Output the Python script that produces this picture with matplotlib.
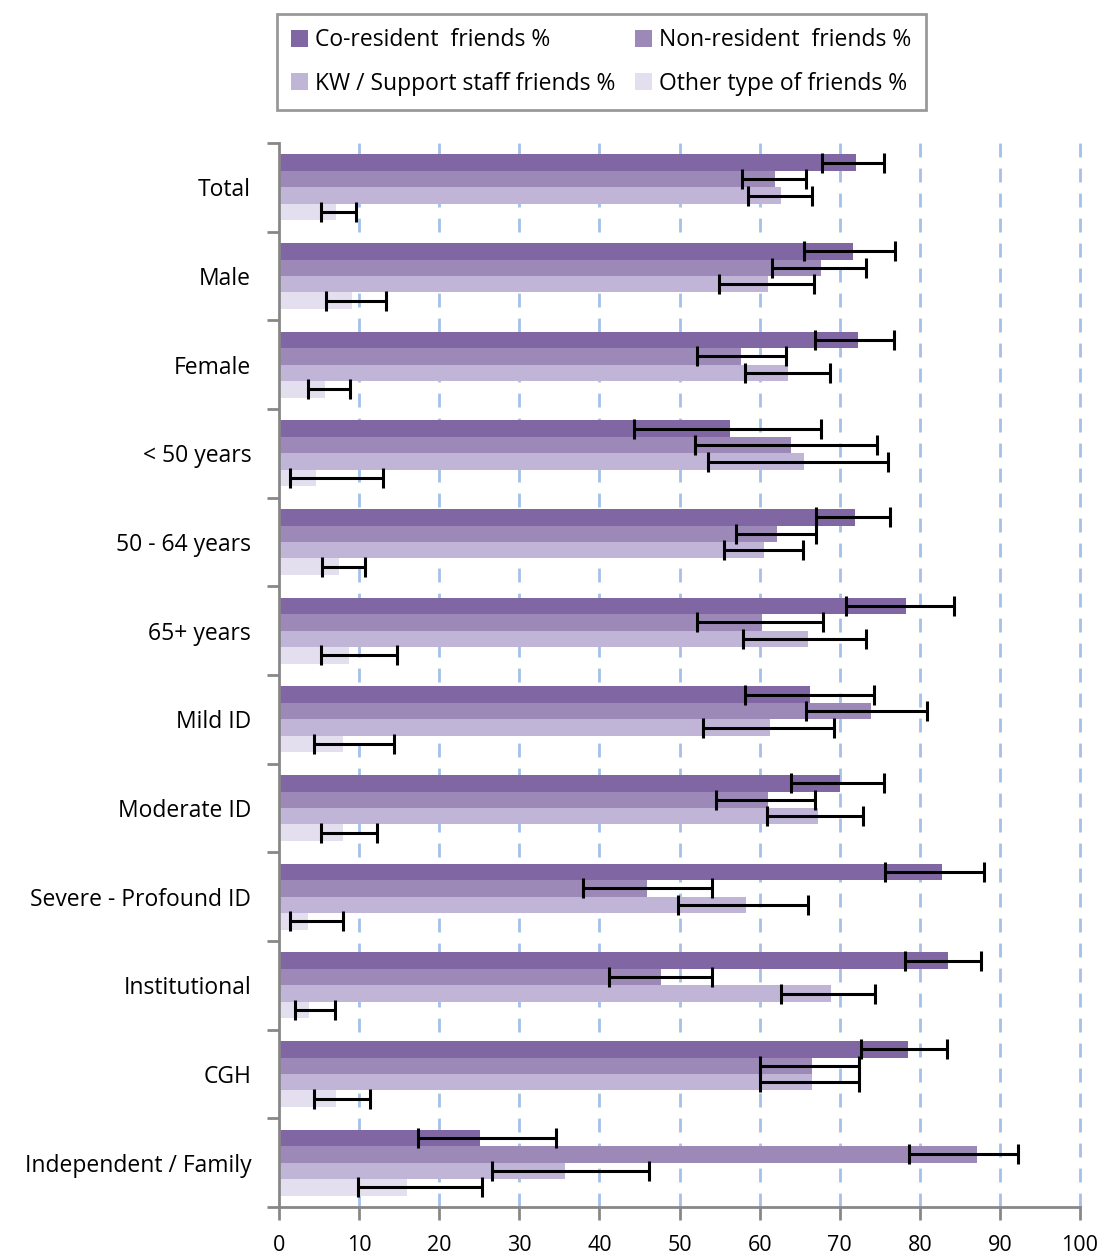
import matplotlib
matplotlib.use("Agg")
import matplotlib.pyplot as plt
from matplotlib.patches import Patch
import numpy as np

plt.rcParams['font.family'] = ['Open Sans', 'DejaVu Sans']

categories = ["Total", "Male", "Female", "< 50 years", "50 - 64 years", "65+ years",
              "Mild ID", "Moderate ID", "Severe - Profound ID", "Institutional",
              "CGH", "Independent / Family"]

series_names = ["Co-resident  friends %", "Non-resident  friends %",
                "KW / Support staff friends %", "Other type of friends %"]

co_res = [72.0, 71.6, 72.3, 56.3, 71.9, 78.3, 66.3, 70.0, 82.8, 83.5, 78.5, 25.1]
co_res_lo = [67.8, 65.5, 66.9, 44.3, 67.1, 70.8, 58.2, 63.9, 75.7, 78.1, 72.7, 17.3]
co_res_hi = [75.5, 76.9, 76.8, 67.7, 76.3, 84.3, 74.3, 75.5, 88.0, 87.7, 83.4, 34.6]

non_res = [61.9, 67.7, 57.7, 63.9, 62.2, 60.3, 73.9, 61.0, 46.0, 47.7, 66.5, 87.2]
non_res_lo = [57.8, 61.5, 52.2, 51.9, 57.1, 52.2, 65.8, 54.6, 37.9, 41.2, 60.1, 78.7]
non_res_hi = [65.8, 73.3, 63.3, 74.7, 67.0, 67.9, 80.9, 66.9, 54.1, 54.1, 72.4, 92.3]

kw = [62.7, 61.0, 63.5, 65.6, 60.6, 66.0, 61.3, 67.3, 58.3, 68.9, 66.5, 35.7]
kw_lo = [58.6, 54.9, 58.2, 53.5, 55.5, 57.9, 52.9, 60.9, 49.8, 62.7, 60.1, 26.6]
kw_hi = [66.5, 66.8, 68.8, 76.0, 65.4, 73.3, 69.3, 72.9, 66.0, 74.4, 72.4, 46.2]

other = [7.1, 9.1, 5.7, 4.6, 7.5, 8.7, 8.0, 8.0, 3.6, 3.8, 7.1, 16.0]
other_lo = [5.2, 5.9, 3.6, 1.4, 5.4, 5.2, 4.4, 5.2, 1.4, 2.0, 4.4, 9.9]
other_hi = [9.6, 13.4, 8.9, 13.0, 10.7, 14.7, 14.4, 12.2, 8.0, 7.0, 11.3, 25.3]

x_ticks = [0, 10, 20, 30, 40, 50, 60, 70, 80, 90, 100]

colors = ["#8067A3", "#9C89B8", "#C1B5D7", "#E3DFEE"]

W, H = 1102, 1255
fig = plt.figure(figsize=(W / 100, H / 100), dpi=100)
ax = fig.add_axes([279 / W, 1 - 1207 / H, (1080 - 279) / W, (1207 - 143) / H])

ypos = np.arange(len(categories))
h = 0.186
series = [(co_res, co_res_lo, co_res_hi), (non_res, non_res_lo, non_res_hi),
          (kw, kw_lo, kw_hi), (other, other_lo, other_hi)]

for gx in x_ticks[1:]:
    ax.axvline(gx, color="#A3C1E9", lw=2, ls=(0, (5, 4)), zorder=0.5, clip_on=False)

for k, (vals, lo, hi) in enumerate(series):
    yk = ypos + (k - 1.5) * h
    vals = np.array(vals); lo = np.array(lo); hi = np.array(hi)
    ax.barh(yk, vals, height=h, color=colors[k], zorder=2, label=series_names[k])
    ax.errorbar((lo + hi) / 2, yk, xerr=(hi - lo) / 2, fmt='none', ecolor='black',
                elinewidth=2.2, capsize=7, capthick=2.2, zorder=3)

ax.set_xlim(0, 100)
ax.set_ylim(len(categories) - 0.5, -0.5)
ax.set_xticks(x_ticks)
ax.set_xticklabels([str(v) for v in x_ticks], fontsize=15.5)
ax.set_yticks(ypos)
ax.set_yticklabels(categories, fontsize=16.5)
ax.set_yticks(np.arange(len(categories) + 1) - 0.5, minor=True)
ax.tick_params(axis='y', which='major', length=0, pad=20)
ax.tick_params(axis='y', which='minor', length=9, width=2, color='#878787', direction='out')
ax.tick_params(axis='x', which='major', length=9, width=2, color='#878787', direction='out', pad=11)

for s in ['top', 'right']:
    ax.spines[s].set_visible(False)
for s in ['left', 'bottom']:
    ax.spines[s].set_color('#878787')
    ax.spines[s].set_linewidth(2)

handles = [Patch(facecolor=c) for c in colors]
order = [0, 2, 1, 3]
leg = fig.legend([handles[i] for i in order], [series_names[i] for i in order],
                 ncol=2, loc='upper left', bbox_to_anchor=(277 / W, 1 - 14 / H),
                 borderaxespad=0,
                 frameon=True, fancybox=False, edgecolor='#808080', fontsize=16.5,
                 handlelength=0.75, handleheight=0.75, handletextpad=0.3,
                 columnspacing=0.85, borderpad=0.62, labelspacing=0.85)
leg.get_frame().set_linewidth(2)

fig.savefig("out.png", dpi=100)
